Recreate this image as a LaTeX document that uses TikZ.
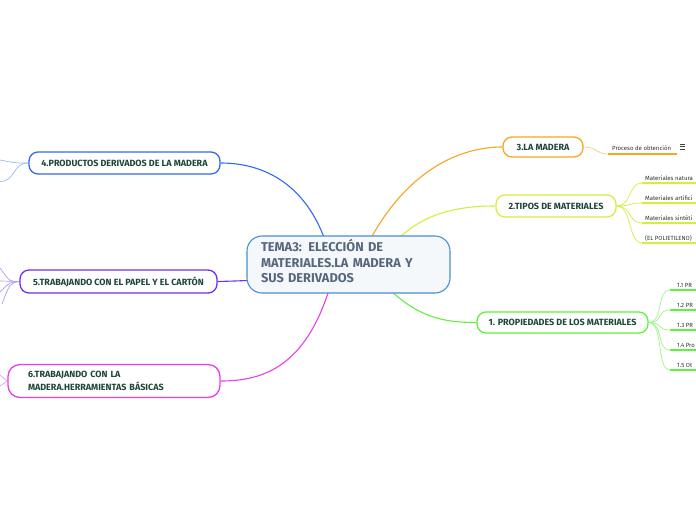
\documentclass[tikz,border=0pt]{standalone}
\usepackage{fontspec}
\setmainfont{Fira Sans}
\usetikzlibrary{backgrounds}
\definecolor{labelc}{HTML}{1D4636}
\definecolor{ctext}{HTML}{56677D}
\definecolor{cborder}{HTML}{4A8FD0}
\definecolor{cfill}{HTML}{F5F8FB}
\definecolor{corange}{HTML}{F5A623}
\definecolor{corangel}{HTML}{F9CB84}
\definecolor{cyellow}{HTML}{D4EF3A}
\definecolor{cyellowl}{HTML}{E6F58A}
\definecolor{cgreen}{HTML}{5EF23A}
\definecolor{cgreenl}{HTML}{9CF78A}
\definecolor{cblue}{HTML}{2F6BF0}
\definecolor{cbluel}{HTML}{9DB8F7}
\definecolor{cpurple}{HTML}{6F2EF0}
\definecolor{cpurplel}{HTML}{B79AF5}
\definecolor{cmagenta}{HTML}{E83EE8}
\definecolor{cmagental}{HTML}{F2A0F2}
\begin{document}
\begin{tikzpicture}[x=1pt,y=-1pt,
  box/.style={draw, line width=1.3pt, fill=white, rounded corners=9pt, inner sep=0pt,
    font=\bfseries\fontsize{9}{12}\selectfont, text=labelc},
  conn/.style={line width=1.1pt},
  subl/.style={line width=0.7pt},
  uline/.style={line width=1.4pt},
  item/.style={font=\fontsize{6}{7}\selectfont, text=black!80, inner sep=0pt, anchor=base west}]
\useasboundingbox (0,0) rectangle (696,520);

% central node
\node[box, draw=cborder, fill=cfill, rounded corners=15pt, minimum width=203pt, minimum height=57pt,
  text width=175pt, align=left, inner xsep=14pt, line width=1.1pt,
  font=\bfseries\fontsize{12.8}{15.5}\selectfont, text=ctext] (c) at (348.5,264.5)
  {TEMA3: ELECCIÓN DE\\MATERIALES.LA MADERA Y\\SUS DERIVADOS\par\vspace*{7pt}};

% main branches
\node[box, draw=corange, minimum width=80pt, minimum height=20pt] (madera) at (543,147) {3.LA MADERA};
\node[box, draw=cyellow, minimum width=120pt, minimum height=22pt] (tipos) at (556,206) {2.TIPOS DE MATERIALES};
\node[box, draw=cgreen, minimum width=171pt, minimum height=21pt] (prop) at (562.5,322.5) {1. PROPIEDADES DE LOS MATERIALES};
\node[box, draw=cblue, minimum width=191pt, minimum height=22pt] (prod) at (124.5,163) {4.PRODUCTOS DERIVADOS DE LA MADERA};
\node[box, draw=cpurple, minimum width=197pt, minimum height=23pt] (papel) at (118.5,281.5) {5.TRABAJANDO CON EL PAPEL Y EL CARTÓN};
\node[box, draw=cmagenta, rounded corners=12pt, minimum width=212pt, minimum height=33pt, text width=172pt,
  align=left, inner xsep=20pt, font=\bfseries\fontsize{9}{12.5}\selectfont] (herr) at (114,381)
  {6.TRABAJANDO CON LA\\MADERA.HERRAMIENTAS BÁSICAS};

% sub items
\node[item] (proc) at (612,150) {Proceso de obtención};
\coordinate (pu) at (608,154);
\node[item] (m1) at (645,180) {Materiales natura};
\node[item] (m2) at (645,200) {Materiales artifici};
\node[item] (m3) at (645,220) {Materiales sintéti};
\node[item] (m4) at (645,240) {(EL POLIETILENO)};
\node[item] (p1) at (677,287.5) {1.1 PR};
\node[item] (p2) at (677,307.5) {1.2 PR};
\node[item] (p3) at (677,327.5) {1.3 PR};
\node[item] (p4) at (677,347.5) {1.4 Pro};
\node[item] (p5) at (677,367.5) {1.5 Ot};
\coordinate (l4a) at (0,160);
\coordinate (l4b) at (0,181.5);
\coordinate (l5a) at (0,268);
\coordinate (l5b) at (0,281);
\coordinate (l5c) at (0,292);
\coordinate (l5d) at (2,304);
\coordinate (l6a) at (0,375);
\coordinate (l6b) at (0,386);

\begin{scope}[on background layer]
  \fill[white] (0,0) rectangle (696,520);
  \clip (0,0) rectangle (696,520);
  % main connectors
  \draw[conn, cblue] (325,240) .. controls (305,185) and (265,163) .. (prod.east);
  \draw[conn, corange] (370,240) .. controls (405,175) and (455,147) .. (madera.west);
  \draw[conn, cyellow] (397,240) .. controls (425,212) and (460,206) .. (tipos.west);
  \draw[conn, cgreen] (390,290) .. controls (420,318) and (445,322.5) .. (prop.west);
  \draw[conn, cmagenta] (329,290) .. controls (305,365) and (265,381) .. (herr.east);
  \draw[conn, cpurple] (247,280.5) .. controls (235,281) .. (papel.east);
  % proceso
  \draw[subl, corangel] (madera.east) .. controls (597,147) and (596,154) .. (pu);
  \draw[uline, corange, line width=1.6pt] (pu) -- (677,154);
  % materials
  \foreach \n/\y in {m1/183,m2/203,m3/223,m4/243}{
    \draw[subl, cyellow] (tipos.east) .. controls (632,206) and (628,\y) .. (642,\y);
    \draw[uline, cyellow] (642,\y) -- (700,\y);
  }
  % properties
  \foreach \n/\y in {p1/290,p2/310,p3/330,p4/350,p5/370}{
    \draw[subl, cgreenl] (prop.east) .. controls (664,322.5) and (656,\y) .. (670,\y);
    \draw[uline, cgreen] (670,\y) -- (700,\y);
  }
  % left stubs
  \draw[subl, cbluel] (prod.west) .. controls (15,163) .. (l4a);
  \draw[subl, cbluel] (prod.west) .. controls (12,163) and (16,181.5) .. (l4b);
  \draw[subl, cpurplel] (papel.west) .. controls (10,282) .. (l5a);
  \draw[subl, cpurplel] (papel.west) -- (l5b);
  \draw[subl, cpurplel] (papel.west) .. controls (10,282) .. (l5c);
  \draw[subl, cpurplel] (papel.west) .. controls (10,283) .. (l5d);
  \draw[subl, cmagental] (herr.west) -- (l6a);
  \draw[subl, cmagental] (herr.west) -- (l6b);
\end{scope}
% menu icon
\draw[line width=0.8pt, black!75] (680,144) -- (685,144) (680,146.5) -- (685,146.5) (680,149) -- (685,149);
\end{tikzpicture}
\end{document}
